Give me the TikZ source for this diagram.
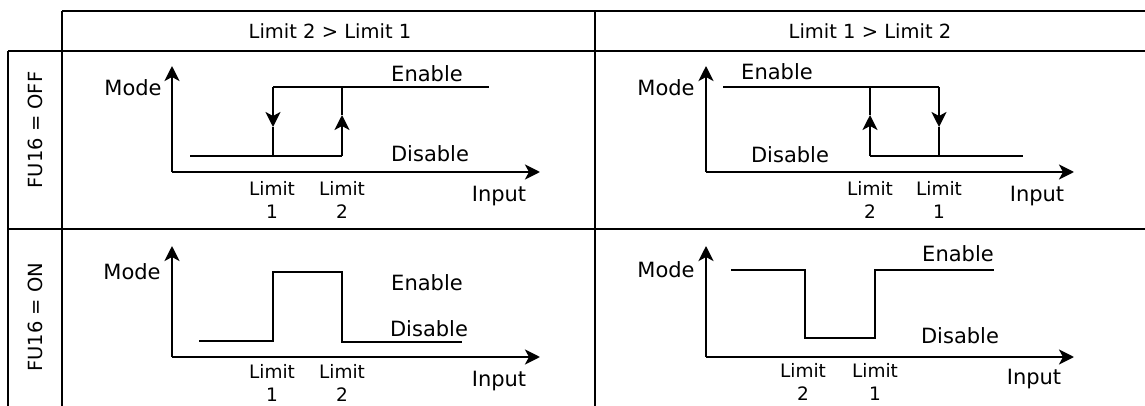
\documentclass[tikz,border=0pt]{standalone}
\usepackage{fontspec}
\setmainfont{DejaVu Sans}
\usetikzlibrary{arrows.meta}

\tikzset{
  grid/.style={line width=2.8pt},
  axis/.style={line width=2.8pt,->},
  sig/.style={line width=2.3pt},
  lbl/.style={font=\fontsize{21}{24}\selectfont,inner sep=0pt},
  lim/.style={font=\fontsize{18.5}{23}\selectfont,align=center,inner sep=0pt},
  hdr/.style={font=\fontsize{19.5}{22}\selectfont,inner sep=0pt},
  >={Stealth[length=15pt,width=15pt,inset=4pt]}
}

\begin{document}
\begin{tikzpicture}[x=1pt,y=-1pt]
\useasboundingbox (0,0) rectangle (1145,406);

% table
\draw[grid] (62,11) -- (1150,11);
\draw[grid] (8,51) -- (1150,51);
\draw[grid] (8,229) -- (1150,229);
\draw[grid] (8,51) -- (8,410);
\draw[grid] (62,11) -- (62,410);
\draw[grid] (595,11) -- (595,410);
\node[hdr] (h1) at (330,31) {Limit 2 > Limit 1};
\node[hdr] (h2) at (870,31) {Limit 1 > Limit 2};
\node[hdr,rotate=90] (r1) at (35,130) {FU16 = OFF};
\node[hdr,rotate=90] (r2) at (35,317) {FU16 = ON};

% FU16 = OFF, Limit 2 > Limit 1
\coordinate (o1) at (172,172);
\draw[axis] (o1) -- (172,66);
\draw[axis] (o1) -- (540,172);
\node[lbl] (m1) at (133,88) {Mode};
\node[lbl] (e1) at (427,74) {Enable};
\node[lbl] (d1) at (430,154) {Disable};
\node[lbl] (i1) at (499,196) {Input};
\node[lim] (la1) at (272,200) {Limit\\1};
\node[lim] (lb1) at (342,200) {Limit\\2};
\draw[sig] (190,156) -- (342,156);
\draw[sig,->] (342,156) -- (342,115);
\draw[sig] (342,115) -- (342,87);
\draw[sig] (273,87) -- (489,87);
\draw[sig,->] (273,87) -- (273,127);
\draw[sig] (273,127) -- (273,156);

% FU16 = OFF, Limit 1 > Limit 2
\coordinate (o2) at (706,172);
\draw[axis] (o2) -- (706,66);
\draw[axis] (o2) -- (1074,172);
\node[lbl] (m2) at (666,88) {Mode};
\node[lbl] (e2) at (777,72) {Enable};
\node[lbl] (d2) at (790,155) {Disable};
\node[lbl] (i2) at (1037,196) {Input};
\node[lim] (la2) at (870,200) {Limit\\2};
\node[lim] (lb2) at (939,200) {Limit\\1};
\draw[sig] (723,87) -- (939,87);
\draw[sig,->] (939,87) -- (939,127);
\draw[sig] (939,127) -- (939,156);
\draw[sig] (870,156) -- (1023,156);
\draw[sig,->] (870,156) -- (870,115);
\draw[sig] (870,115) -- (870,87);

% FU16 = ON, Limit 2 > Limit 1
\coordinate (o3) at (172,357);
\draw[axis] (o3) -- (172,246);
\draw[axis] (o3) -- (540,357);
\node[lbl] (m3) at (132,272) {Mode};
\node[lbl] (e3) at (427,283) {Enable};
\node[lbl] (d3) at (429,329) {Disable};
\node[lbl] (i3) at (499,381) {Input};
\node[lim] (la3) at (272,383) {Limit\\1};
\node[lim] (lb3) at (342,383) {Limit\\2};
\draw[sig] (199,341) -- (273,341) -- (273,272) -- (342,272) -- (342,342) -- (462,342);

% FU16 = ON, Limit 1 > Limit 2
\coordinate (o4) at (706,357);
\draw[axis] (o4) -- (706,246);
\draw[axis] (o4) -- (1074,357);
\node[lbl] (m4) at (666,270) {Mode};
\node[lbl] (e4) at (958,254) {Enable};
\node[lbl] (d4) at (960,336) {Disable};
\node[lbl] (i4) at (1034,379) {Input};
\node[lim] (la4) at (803,382) {Limit\\2};
\node[lim] (lb4) at (875,382) {Limit\\1};
\draw[sig] (731,270) -- (805,270) -- (805,338) -- (875,338) -- (875,270) -- (994,270);
\end{tikzpicture}
\end{document}
